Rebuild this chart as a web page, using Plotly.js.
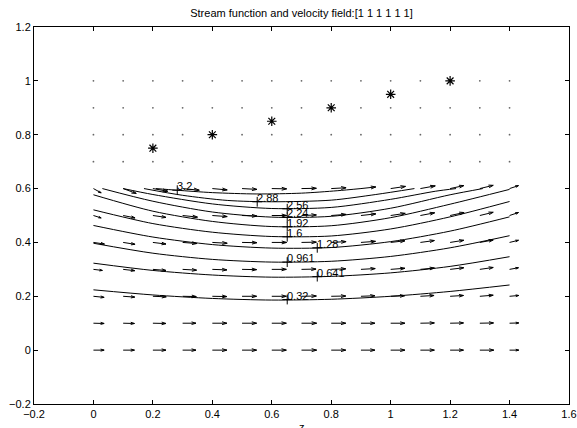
<!DOCTYPE html>
<html><head><meta charset="utf-8">
<script src="https://cdn.plot.ly/plotly-3.0.1.min.js"></script>
<style>html,body{margin:0;padding:0;background:#fff;}#chart{width:577px;height:428px;}</style>
</head><body><div id="chart"></div>
<script>
// ---- quiver grid ----
const gridX = [0,0.1,0.2,0.3,0.4,0.5,0.6,0.7,0.8,0.9,1.0,1.1,1.2,1.3,1.4];
const gridY = [0,0.1,0.2,0.3,0.4,0.5,0.6,0.7,0.8,0.9,1.0];
// horizontal velocity component (plot units), one row per gridY
const U = [
 [0.036,0.038,0.044,0.045,0.049,0.049,0.049,0.051,0.049,0.047,0.048,0.047,0.045,0.047,0.031],
 [0.036,0.038,0.044,0.045,0.049,0.049,0.049,0.051,0.049,0.047,0.048,0.047,0.045,0.046,0.031],
 [0.036,0.039,0.045,0.046,0.049,0.049,0.049,0.050,0.049,0.047,0.047,0.046,0.045,0.045,0.031],
 [0.030,0.039,0.044,0.047,0.049,0.049,0.049,0.049,0.049,0.048,0.048,0.047,0.046,0.045,0.030],
 [0.037,0.040,0.044,0.048,0.050,0.050,0.050,0.050,0.050,0.049,0.048,0.047,0.046,0.045,0.030],
 [0.026,0.040,0.044,0.050,0.050,0.050,0.050,0.050,0.050,0.050,0.049,0.048,0.047,0.045,0.030],
 [0.026,0.044,0.050,0.056,0.050,0.050,0.050,0.050,0.050,0.050,0.050,0.050,0.046,0.045,0.030],
 [0,0,0,0,0,0,0,0,0,0,0,0,0,0,0],
 [0,0,0,0,0,0,0,0,0,0,0,0,0,0,0],
 [0,0,0,0,0,0,0,0,0,0,0,0,0,0,0],
 [0,0,0,0,0,0,0,0,0,0,0,0,0,0,0]
];
// vertical velocity component (plot units)
const V = [
 [0,0,0,0,0,0,0,0,0,0,0,0,0,0,0],
 [-0.001,-0.001,-0.001,0,0,0,0,0,0,0,0,0.001,0.001,0.001,0.001],
 [-0.004,-0.003,-0.002,-0.001,-0.001,0,0,0.001,0.001,0.002,0.002,0.003,0.003,0.004,0.003],
 [-0.004,-0.005,-0.004,-0.003,-0.002,-0.001,0,0.001,0.002,0.003,0.004,0.005,0.006,0.007,0.006],
 [-0.006,-0.007,-0.006,-0.004,-0.003,-0.001,0,0.001,0.003,0.004,0.006,0.007,0.008,0.009,0.008],
 [-0.009,-0.009,-0.007,-0.006,-0.004,-0.002,0,0.002,0.004,0.006,0.008,0.010,0.011,0.012,0.011],
 [-0.016,-0.018,-0.010,-0.006,-0.005,-0.003,-0.001,0.001,0.003,0.006,0.008,0.010,0.011,0.012,0.011],
 [0,0,0,0,0,0,0,0,0,0,0,0,0,0,0],
 [0,0,0,0,0,0,0,0,0,0,0,0,0,0,0],
 [0,0,0,0,0,0,0,0,0,0,0,0,0,0,0],
 [0,0,0,0,0,0,0,0,0,0,0,0,0,0,0]
];
// ---- surface points (stars) ----
const starX = [0.2,0.4,0.6,0.8,1.0,1.2];
const starY = [0.75,0.8,0.85,0.9,0.95,1.0];
// ---- stream function contours ----
const levels = ["0.32","0.641","0.961","1.28","1.6","1.92","2.24","2.56","2.88","3.2"];
const c1x = [0,0.2,0.4,0.6,0.8,1.0,1.2,1.4];
const c1y = [0.224,0.205,0.192,0.186,0.189,0.200,0.218,0.242];
const c2x = [0,0.2,0.4,0.6,0.8,1.0,1.2,1.4];
const c2y = [0.323,0.296,0.279,0.271,0.274,0.287,0.311,0.347];
const c3x = [0,0.2,0.4,0.6,0.8,1.0,1.2,1.4];
const c3y = [0.397,0.360,0.337,0.327,0.330,0.348,0.380,0.425];
const c4x = [0,0.2,0.4,0.6,0.8,1.0,1.2,1.4];
const c4y = [0.463,0.420,0.392,0.379,0.381,0.403,0.442,0.495];
const c5x = [0,0.2,0.4,0.6,0.8,1.0,1.2,1.4];
const c5y = [0.521,0.470,0.438,0.422,0.424,0.450,0.495,0.552];
const c6x = [0,0.2,0.4,0.6,0.8,1.0,1.2,1.4];
const c6y = [0.577,0.516,0.478,0.459,0.462,0.492,0.542,0.597];
const c7x = [0.03,0.2,0.4,0.6,0.8,1.0,1.2,1.31];
const c7y = [0.600,0.553,0.513,0.494,0.497,0.527,0.577,0.600];
const c8x = [0.10,0.2,0.4,0.6,0.8,1.0,1.15,1.22];
const c8y = [0.600,0.578,0.543,0.526,0.530,0.560,0.590,0.600];
const c9x = [0.17,0.3,0.45,0.6,0.8,0.95,1.08];
const c9y = [0.600,0.575,0.556,0.551,0.557,0.578,0.600];
const c10x = [0.21,0.28,0.4,0.55,0.7,0.82,0.9];
const c10y = [0.600,0.594,0.585,0.580,0.583,0.592,0.600];
// contour label anchor points
const labX = [0.652,0.753,0.652,0.753,0.652,0.652,0.652,0.652,0.551,0.282];
const labY = [0.188,0.273,0.327,0.380,0.421,0.458,0.493,0.525,0.551,0.594];

const FONT = '"Liberation Sans", Arial, Helvetica, sans-serif';
const traces = [];

// quiver shafts + heads (MATLAB-style)
const qx = [], qy = [], dx = [], dy = [];
const alpha = 0.33, beta = 0.33;
for (let j = 0; j < gridY.length; j++) {
  for (let i = 0; i < gridX.length; i++) {
    const x = gridX[i], y = gridY[j], u = U[j][i], v = V[j][i];
    if (u === 0 && v === 0) { dx.push(x); dy.push(y); continue; }
    qx.push(x, x + u, null);
    qy.push(y, y + v, null);
    qx.push(x + u - alpha * (u + beta * v), x + u, x + u - alpha * (u - beta * v), null);
    qy.push(y + v - alpha * (v - beta * u), y + v, y + v - alpha * (v + beta * u), null);
  }
}
traces.push({type:'scatter', mode:'lines', x:qx, y:qy, line:{color:'#000', width:1}, hoverinfo:'skip'});
traces.push({type:'scatter', mode:'markers', x:dx, y:dy, marker:{color:'#666', size:1.8}, hoverinfo:'skip'});

const cx = [c1x,c2x,c3x,c4x,c5x,c6x,c7x,c8x,c9x,c10x];
const cy = [c1y,c2y,c3y,c4y,c5y,c6y,c7y,c8y,c9y,c10y];
for (let k = 0; k < cx.length; k++) {
  traces.push({type:'scatter', mode:'lines', x:cx[k], y:cy[k], name:levels[k],
    line:{color:'#000', width:1, shape:'spline', smoothing:0.8}, hoverinfo:'skip'});
}
traces.push({type:'scatter', mode:'markers', x:labX, y:labY,
  marker:{symbol:'cross-thin-open', size:7, color:'#000', line:{color:'#000', width:1}}, hoverinfo:'skip'});
traces.push({type:'scatter', mode:'markers', x:starX, y:starY,
  marker:{symbol:'asterisk-open', size:8, color:'#000', line:{color:'#000', width:1.2}}, hoverinfo:'skip'});

const annotations = levels.map((t, k) => ({
  x: labX[k], y: labY[k], xref:'x', yref:'y', text:t, showarrow:false,
  xanchor:'left', yanchor:'bottom', borderpad:0, xshift:-1, yshift:-3,
  font:{family:FONT, size:11, color:'#000'}
}));
annotations.push({x:0.5, y:0, xref:'paper', yref:'paper', text:'z', showarrow:false,
  xanchor:'center', yanchor:'top', yshift:-15, font:{family:FONT, size:11, color:'#000'}});

const axisCommon = {showgrid:false, zeroline:false, showline:true, linecolor:'#000', linewidth:1,
  mirror:'allticks', ticks:'inside', ticklen:4, tickcolor:'#000', tickwidth:1,
  tickfont:{family:FONT, size:11, color:'#000'}};

const layout = {
  width:577, height:428,
  margin:{l:34, r:8, t:27, b:24},
  paper_bgcolor:'#fff', plot_bgcolor:'#fff',
  showlegend:false,
  font:{family:FONT, size:11, color:'#000'},
  title:{text:'Stream function and velocity field:[1 1 1 1 1 1]', x:0.5, xref:'paper',
    y:1 - 13/428, yref:'container', yanchor:'middle', font:{family:FONT, size:11, color:'#000'}},
  xaxis:Object.assign({range:[-0.2,1.6], tick0:-0.2, dtick:0.2}, axisCommon),
  yaxis:Object.assign({range:[-0.2,1.2], tick0:-0.2, dtick:0.2}, axisCommon),
  annotations:annotations
};
Plotly.newPlot('chart', traces, layout, {staticPlot:true, displayModeBar:false});
</script>
</body></html>
